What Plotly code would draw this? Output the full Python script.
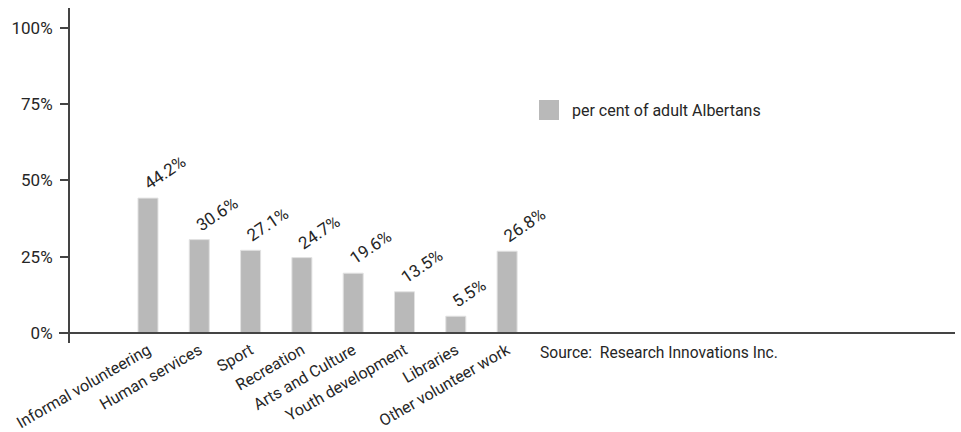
import plotly.graph_objects as go

categories = ["Informal volunteering", "Human services", "Sport", "Recreation",
              "Arts and Culture", "Youth development", "Libraries", "Other volunteer work"]
values = [44.2, 30.6, 27.1, 24.7, 19.6, 13.5, 5.5, 26.8]
series_name = "per cent of adult Albertans"
y_ticks = [0, 25, 50, 75, 100]
y_tick_labels = ["0%", "25%", "50%", "75%", "100%"]
source_text = "Source:\u00a0 Research Innovations Inc."

FONT = "Roboto"
FS = 16
TXT = "#262626"
BAR = "#b9b9b9"
AXIS = "#444444"

W, H = 961, 432
L, R, T, B = 70, 6, 8, 89
pw, ph = W - L - R, H - T - B

def px_x(p):
    return (p - L) / pw

def px_y(p):
    return (H - B - p) / ph

fig = go.Figure()
fig.add_trace(go.Bar(
    x=categories, y=values, name=series_name,
    marker=dict(color=BAR, line=dict(color="#e2e2e2", width=1)),
    showlegend=False, hoverinfo="x+y",
))

for c, v in zip(categories, values):
    fig.add_annotation(
        x=c, y=v, xref="x", yref="y", text=f"{v:.1f}%", showarrow=False,
        textangle=-34, xanchor="left", yanchor="bottom", xshift=-10, yshift=2,
        font=dict(family=FONT, size=17, color=TXT),
    )

# legend (manual)
fig.add_shape(type="rect", xref="paper", yref="paper",
              x0=px_x(539), x1=px_x(559), y0=px_y(120), y1=px_y(100),
              fillcolor=BAR, line=dict(width=0))
fig.add_annotation(x=px_x(570), y=px_y(110), xref="paper", yref="paper",
                   text=series_name, showarrow=False, xanchor="left", yanchor="middle",
                   font=dict(family=FONT, size=FS, color=TXT))

# source
fig.add_annotation(x=px_x(538), y=px_y(353), xref="paper", yref="paper",
                   text=source_text, showarrow=False, xanchor="left", yanchor="middle",
                   font=dict(family=FONT, size=15.6, color=TXT))

# x axis baseline extending left of y axis
fig.add_shape(type="line", xref="paper", yref="y",
              x0=px_x(59), x1=px_x(955), y0=0, y1=0,
              line=dict(color=AXIS, width=2))

fig.update_layout(
    width=W, height=H,
    margin=dict(l=L, r=R, t=T, b=B, pad=0, autoexpand=False),
    paper_bgcolor="white", plot_bgcolor="white",
    bargap=0.61,
    font=dict(family=FONT, size=FS, color=TXT),
    xaxis=dict(
        type="category", range=[-1.52, 15.73], automargin=False,
        showgrid=False, zeroline=False, showline=False,
        ticks="", tickangle=-30, ticklabelstandoff=-6,
        tickfont=dict(family=FONT, size=FS, color=TXT),
    ),
    yaxis=dict(
        range=[-3.28, 106.5], tickvals=y_ticks, ticktext=y_tick_labels, automargin=False,
        showgrid=False, zeroline=False, showline=True, linecolor=AXIS, linewidth=2,
        ticks="outside", ticklen=8, tickwidth=2, tickcolor=AXIS, ticklabelstandoff=4,
        tickfont=dict(family=FONT, size=17, color=TXT),
    ),
)

fig.write_html("out.html")
